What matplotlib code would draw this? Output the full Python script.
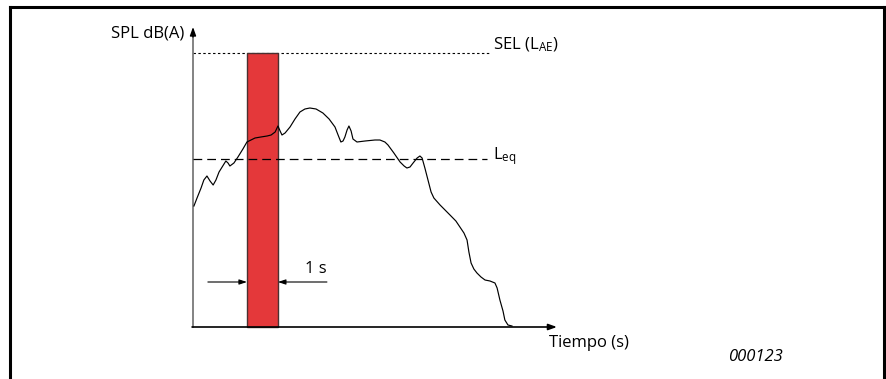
import matplotlib
matplotlib.use("Agg")
import matplotlib.pyplot as plt
from matplotlib.lines import Line2D
from matplotlib.patches import Rectangle

plt.rcParams['font.family'] = ['Open Sans', 'DejaVu Sans']
plt.rcParams['mathtext.fontset'] = 'custom'
plt.rcParams['mathtext.rm'] = 'Open Sans'
plt.rcParams['mathtext.it'] = 'Open Sans:italic'

# --- data (time in s, level in dB(A), arbitrary origin) ---
time_s = [0.03, 0.13, 0.26, 0.35, 0.45, 0.55, 0.65, 0.74, 0.84, 0.94,
          1.00, 1.06, 1.13, 1.19, 1.32, 1.45, 1.61, 1.74, 1.87, 2.00,
          2.19, 2.39, 2.52, 2.65, 2.71, 2.74, 2.81, 2.87, 2.97, 3.13,
          3.29, 3.45, 3.61, 3.77, 3.97, 4.19, 4.39, 4.58, 4.68, 4.77,
          4.84, 4.90, 4.97, 5.03, 5.10, 5.16, 5.29, 5.55, 5.87, 6.03,
          6.19, 6.29, 6.48, 6.68, 6.81, 6.90, 7.00, 7.10, 7.23, 7.32,
          7.39, 7.48, 7.58, 7.68, 7.77, 7.97, 8.29, 8.48, 8.61, 8.74,
          8.84, 8.90, 8.97, 9.06, 9.16, 9.29, 9.42, 9.58, 9.74, 9.81,
          9.90, 10.00, 10.06, 10.16, 10.29]
spl_db = [60.25, 62.25, 64.75, 66.75, 67.75, 66.5, 65.5, 66.75, 68.75, 70.0,
          70.75, 71.5, 71.0, 70.25, 71.0, 72.5, 74.5, 76.25, 76.75, 77.25,
          77.5, 77.75, 78.0, 78.75, 79.75, 80.25, 79.0, 78.0, 78.5, 80.0,
          82.0, 83.75, 84.5, 84.75, 84.5, 83.5, 82.0, 80.0, 78.0, 76.25,
          76.5, 77.5, 79.25, 80.25, 79.0, 77.0, 76.25, 76.5, 76.75, 76.75,
          76.25, 75.5, 73.5, 71.25, 70.25, 69.75, 70.0, 71.0, 72.25, 72.75,
          72.25, 69.75, 66.75, 63.75, 62.25, 60.5, 58.0, 56.5, 55.0, 53.5,
          51.75, 48.75, 46.0, 44.5, 43.5, 42.5, 41.75, 41.5, 41.0, 39.75,
          36.75, 34.0, 31.75, 30.5, 30.25]
sel_db = 98.5
leq_db = 72.0
window_start = 1.74
window_len = 1.0
axis_origin = (0.0, 30.0)
axis_end = (11.74, 105.0)

W, H = 887, 379
fig = plt.figure(figsize=(W / 100, H / 100), dpi=100)
ax = fig.add_axes([0, 0, 1, 1])
px_per_s = 31.0
px_per_db = 4.0
ax.set_xlim(-193 / px_per_s, (W - 193) / px_per_s)
ax.set_ylim(30 + (327 - H) / px_per_db, 30 + 327 / px_per_db)
ax.axis('off')

# outer frame (open at bottom)
frame = dict(color='black', lw=2.2, solid_capstyle='projecting')
fig.add_artist(Line2D([10 / W, 10 / W], [0, 1 - 6.5 / H], transform=fig.transFigure, **frame))
fig.add_artist(Line2D([884 / W, 884 / W], [0, 1 - 6.5 / H], transform=fig.transFigure, **frame))
fig.add_artist(Line2D([10 / W, 884 / W], [1 - 6.5 / H, 1 - 6.5 / H], transform=fig.transFigure, **frame))

x0, y0 = axis_origin
x1, y1 = axis_end

# SEL dotted line and Leq dashed line
ax.plot([x0, 9.55], [sel_db, sel_db], color='black', lw=0.8, ls=(0, (2.2, 2.2)), zorder=1)
ax.plot([x0, 9.48], [leq_db, leq_db], color='black', lw=0.9, ls=(0, (7, 4)), zorder=4)

# 1-second window bar
ax.add_patch(Rectangle((window_start, y0), window_len, sel_db - y0,
                       facecolor='#e4383a', edgecolor='#4a3030', lw=1.0, zorder=2))

# curve
ax.plot(time_s, spl_db, color='black', lw=0.85, zorder=5,
        solid_joinstyle='round', antialiased=True)

# axes with arrows
ax.plot([x0, x0], [y0, y1 - 2], color='#6e6e6e', lw=1.2, zorder=3)
ax.annotate('', xy=(x0, y1), xytext=(x0, y1 - 2.5),
            arrowprops=dict(arrowstyle='-|>,head_length=0.5,head_width=0.18',
                            color='black', lw=1.0, shrinkA=0, shrinkB=0), zorder=3)
ax.annotate('', xy=(x1, y0), xytext=(x0 - 0.03, y0),
            arrowprops=dict(arrowstyle='-|>,head_length=0.5,head_width=0.18',
                            color='black', lw=1.2, shrinkA=0, shrinkB=0), zorder=3)

# 1 s arrows
arrow_y = 41.25
ax.annotate('', xy=(window_start, arrow_y), xytext=(0.48, arrow_y),
            arrowprops=dict(arrowstyle='-|>,head_length=0.45,head_width=0.15',
                            color='black', lw=0.8, shrinkA=0, shrinkB=0))
ax.annotate('', xy=(window_start + window_len, arrow_y), xytext=(4.32, arrow_y),
            arrowprops=dict(arrowstyle='-|>,head_length=0.45,head_width=0.15',
                            color='black', lw=0.8, shrinkA=0, shrinkB=0))

fs = 12
ax.text(4.32, 42.6, '1 s', ha='right', va='bottom', fontsize=fs)
ax.text(-0.29, 103.5, 'SPL dB(A)', ha='right', va='center', fontsize=fs)
ax.text(9.68, 100.6, r'SEL (L$_\mathrm{AE}$)', ha='left', va='center', fontsize=fs)
ax.text(9.68, 72.8, r'L$_\mathrm{eq}$', ha='left', va='center', fontsize=fs)
ax.text(11.48, 26.0, 'Tiempo (s)', ha='left', va='center', fontsize=fs)
ax.text(17.26, 22.5, '000123', ha='left', va='center', fontsize=fs, style='italic')

fig.savefig('out.png', dpi=100)
